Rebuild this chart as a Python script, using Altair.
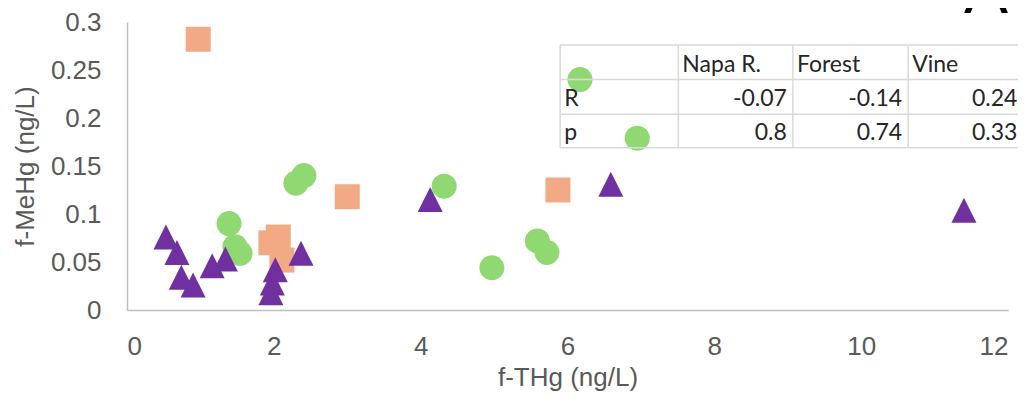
import altair as alt
import pandas as pd

# ---- data ----
napa_x = [0.53, 0.68, 0.74, 0.90, 1.16, 1.34, 2.02, 1.98, 1.96, 2.37, 4.13, 6.59, 11.40]
napa_y = [0.076, 0.060, 0.034, 0.026, 0.046, 0.053, 0.042, 0.028, 0.018, 0.059, 0.115, 0.131, 0.104]

forest_x = [0.97, 3.00, 5.87, 1.96, 2.06, 2.11]
forest_y = [0.282, 0.118, 0.125, 0.070, 0.076, 0.052]

vine_x = [1.39, 1.47, 1.54, 2.30, 2.41, 4.32, 4.97, 6.17, 6.95, 5.59, 5.72]
vine_y = [0.090, 0.066, 0.059, 0.132, 0.140, 0.129, 0.044, 0.240, 0.179, 0.072, 0.060]

x_ticks = [0, 2, 4, 6, 8, 10, 12]
y_ticks = [0, 0.05, 0.1, 0.15, 0.2, 0.25, 0.3]

table_cols = ["Napa R.", "Forest", "Vine"]
row_labels = ["R", "p"]
r_values = ["-0.07", "-0.14", "0.24"]
p_values = ["0.8", "0.74", "0.33"]

panel_letter = "A"

# ---- styling / layout ----
SERIES = ["Forest", "Vine", "Napa R."]
COLORS = ["#F2AA84", "#90D872", "#7030A0"]
SHAPES = ["square", "circle", "M0,-1L1,1L-1,1Z"]
SIZES = [625, 625, 484]

# table placement in data units
COL_EDGES = [5.90, 7.51, 9.07, 10.64, 12.21]
ROW_EDGES = [0.276, 0.240, 0.204, 0.169]

rows = []
for name, xs, ys in [("Forest", forest_x, forest_y), ("Vine", vine_x, vine_y), ("Napa R.", napa_x, napa_y)]:
    for i, (xv, yv) in enumerate(zip(xs, ys)):
        rows.append({"series": name, "x": xv, "y": yv, "ord": SERIES.index(name) * 100 + i})
df = pd.DataFrame(rows)

xscale = alt.Scale(domain=[0, 12], nice=False, zero=False)
yscale = alt.Scale(domain=[0, 0.3], nice=False, zero=False)

xaxis = alt.Axis(title="f-THg (ng/L)", values=x_ticks, format="d", labelPadding=23, titlePadding=5)
yaxis = alt.Axis(title="f-MeHg (ng/L)", values=y_ticks, format="~g", labelPadding=26, titlePadding=12)

points = alt.Chart(df).mark_point(filled=True, opacity=1, strokeWidth=0).encode(
    x=alt.X("x:Q", scale=xscale, axis=xaxis),
    y=alt.Y("y:Q", scale=yscale, axis=yaxis),
    color=alt.Color("series:N", scale=alt.Scale(domain=SERIES, range=COLORS), legend=None),
    shape=alt.Shape("series:N", scale=alt.Scale(domain=SERIES, range=SHAPES), legend=None),
    size=alt.Size("series:N", scale=alt.Scale(domain=SERIES, range=SIZES), legend=None),
    order=alt.Order("ord:Q"),
)

# table grid
hlines = pd.DataFrame({"y": ROW_EDGES, "x": [COL_EDGES[0]] * len(ROW_EDGES), "x2": [COL_EDGES[-1]] * len(ROW_EDGES)})
vlines = pd.DataFrame({"x": COL_EDGES, "y": [ROW_EDGES[0]] * len(COL_EDGES), "y2": [ROW_EDGES[-1]] * len(COL_EDGES)})

GRID_COLOR = "#D9D9D9"
hrule = alt.Chart(hlines).mark_rule(color=GRID_COLOR, strokeWidth=1.5).encode(
    x=alt.X("x:Q", scale=xscale, axis=xaxis), x2="x2:Q",
    y=alt.Y("y:Q", scale=yscale, axis=yaxis))
vrule = alt.Chart(vlines).mark_rule(color=GRID_COLOR, strokeWidth=1.5).encode(
    x=alt.X("x:Q", scale=xscale, axis=xaxis),
    y=alt.Y("y:Q", scale=yscale, axis=yaxis), y2="y2:Q")

# table texts
left_cells = []
for i, c in enumerate(table_cols):
    left_cells.append({"x": COL_EDGES[i + 1], "y": ROW_EDGES[1], "t": c})
for j, r in enumerate(row_labels):
    left_cells.append({"x": COL_EDGES[0], "y": ROW_EDGES[j + 2], "t": r})
right_cells = []
for i, v in enumerate(r_values):
    right_cells.append({"x": COL_EDGES[i + 2], "y": ROW_EDGES[2], "t": v})
for i, v in enumerate(p_values):
    right_cells.append({"x": COL_EDGES[i + 2], "y": ROW_EDGES[3], "t": v})

TFONT = "Lato"
TSIZE = 23
TCOLOR = "#262626"
left_text = alt.Chart(pd.DataFrame(left_cells)).mark_text(
    align="left", baseline="alphabetic", dx=4, dy=-8, font=TFONT, fontSize=TSIZE, color=TCOLOR
).encode(x=alt.X("x:Q", scale=xscale, axis=xaxis), y=alt.Y("y:Q", scale=yscale, axis=yaxis), text="t:N")
right_text = alt.Chart(pd.DataFrame(right_cells)).mark_text(
    align="right", baseline="alphabetic", dx=-6, dy=-8, font=TFONT, fontSize=TSIZE, color=TCOLOR
).encode(x=alt.X("x:Q", scale=xscale, axis=xaxis), y=alt.Y("y:Q", scale=yscale, axis=yaxis), text="t:N")

letter = alt.Chart(pd.DataFrame({"x": [11.70], "y": [0.309], "t": [panel_letter]})).mark_text(
    align="center", baseline="alphabetic", font="Liberation Sans", fontSize=66, color="#000000"
).encode(x=alt.X("x:Q", scale=xscale, axis=xaxis), y=alt.Y("y:Q", scale=yscale, axis=yaxis), text="t:N")

chart = alt.layer(points, hrule, vrule, left_text, right_text, letter).properties(
    width=881, height=288,
    autosize=alt.AutoSizeParams(type="none"),
    padding={"left": 119, "top": 14, "right": 10, "bottom": 89},
    background="white",
).configure_view(stroke=None).configure_axis(
    grid=False, ticks=False, domainColor="#BFBFBF", domainWidth=1.5,
    labelFont="Liberation Sans", labelFontSize=26, labelColor="#595959",
    titleFont="Liberation Sans", titleFontSize=26, titleFontWeight="normal", titleColor="#595959",
)

chart.save("out.html", embed_options={"renderer": "svg", "actions": False})
